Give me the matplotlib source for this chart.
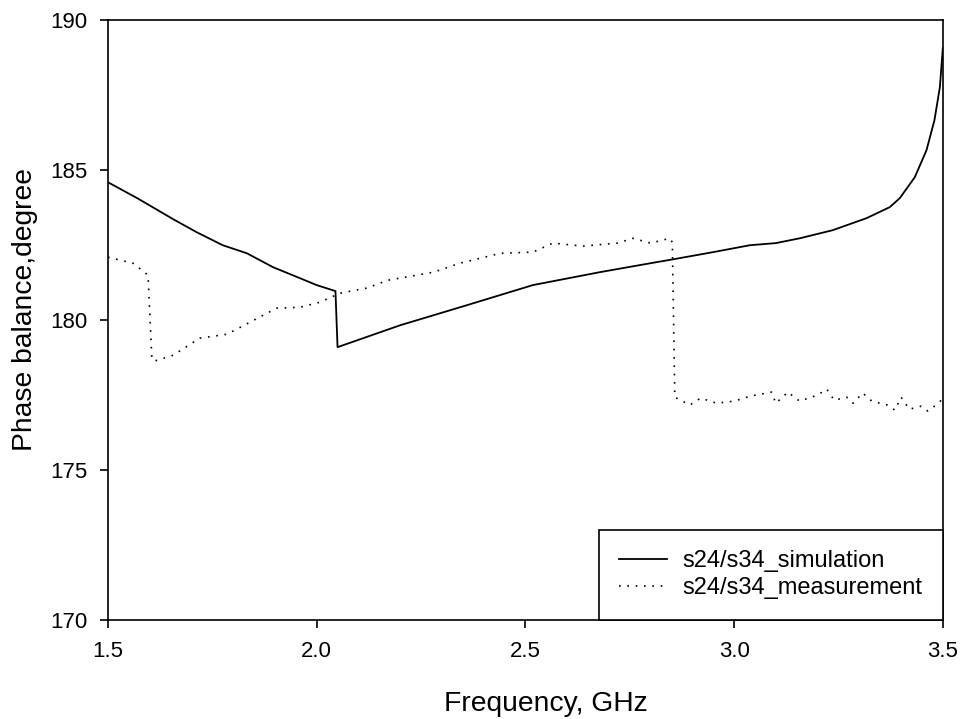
import numpy as np
import matplotlib
matplotlib.use("Agg")
import matplotlib.pyplot as plt

plt.rcParams['font.family'] = ['Liberation Sans', 'DejaVu Sans']

# simulation curve
sim_f = [1.50, 1.57, 1.656, 1.713, 1.775, 1.833, 1.895, 1.96, 2.00, 2.045,
         2.05, 2.20, 2.36, 2.518, 2.678, 2.80, 2.854, 2.95, 3.038, 3.10,
         3.157, 3.236, 3.317, 3.373, 3.397, 3.433, 3.461, 3.48, 3.493, 3.50]
sim_v = [184.6, 184.07, 183.37, 182.93, 182.5, 182.23, 181.77, 181.4, 181.17, 180.97,
         179.1, 179.83, 180.5, 181.17, 181.6, 181.9, 182.03, 182.27, 182.5, 182.57,
         182.73, 183.0, 183.4, 183.77, 184.07, 184.77, 185.67, 186.67, 187.77, 189.07]

meas_f = [1.50, 1.56, 1.596, 1.605, 1.61, 1.656, 1.72, 1.785, 1.84, 1.904,
          1.96, 2.008, 2.056, 2.12, 2.17, 2.28, 2.343, 2.44, 2.518, 2.566,
          2.638, 2.72, 2.758, 2.80, 2.846, 2.852, 2.858, 2.894, 2.92, 2.958,
          3.00, 3.04, 3.09, 3.10, 3.129, 3.157, 3.20, 3.222, 3.24, 3.27,
          3.285, 3.308, 3.33, 3.367, 3.385, 3.40, 3.42, 3.448, 3.464, 3.48, 3.50]
meas_v = [182.1, 181.9, 181.5, 178.77, 178.63, 178.83, 179.4, 179.53, 179.93, 180.4,
          180.43, 180.6, 180.9, 181.07, 181.33, 181.6, 181.9, 182.23, 182.27, 182.57,
          182.47, 182.57, 182.73, 182.57, 182.73, 182.6, 177.43, 177.17, 177.4, 177.23,
          177.3, 177.47, 177.6, 177.23, 177.6, 177.3, 177.5, 177.7, 177.33, 177.43,
          177.23, 177.57, 177.3, 177.17, 177.0, 177.43, 177.03, 177.13, 176.97, 177.13, 177.37]

fig = plt.figure(figsize=(9.64, 7.19), dpi=100)
ax = fig.add_axes([0.112, 0.1377, 0.866, 0.834])

ax.plot(sim_f, sim_v, color="black", linewidth=1.3, label="s24/s34_simulation")
ax.plot(meas_f, meas_v, color="black", linewidth=1.2, linestyle=(0, (1, 4)),
        label="s24/s34_measurement")

ax.set_xlim(1.5, 3.5)
ax.set_ylim(170, 190)
ax.set_xticks([1.5, 2.0, 2.5, 3.0, 3.5])
ax.set_yticks([170, 175, 180, 185, 190])
ax.tick_params(direction="out", length=6, width=1.2, labelsize=16, pad=9)
for s in ax.spines.values():
    s.set_linewidth(1.2)

ax.set_xlabel("Frequency, GHz", fontsize=20.3)
ax.set_ylabel("Phase balance,degree", fontsize=20.3)
ax.xaxis.set_label_coords(0.5245, -0.118)
ax.yaxis.set_label_coords(-0.084, 0.517)

leg = ax.legend(loc="lower right", borderaxespad=0, fancybox=False, fontsize=17,
                handlelength=2.0, handletextpad=0.65, borderpad=0.88,
                labelspacing=0.2, framealpha=1)
leg.get_frame().set_edgecolor("black")
leg.get_frame().set_linewidth(1.2)

fig.savefig("out.png", dpi=100)
